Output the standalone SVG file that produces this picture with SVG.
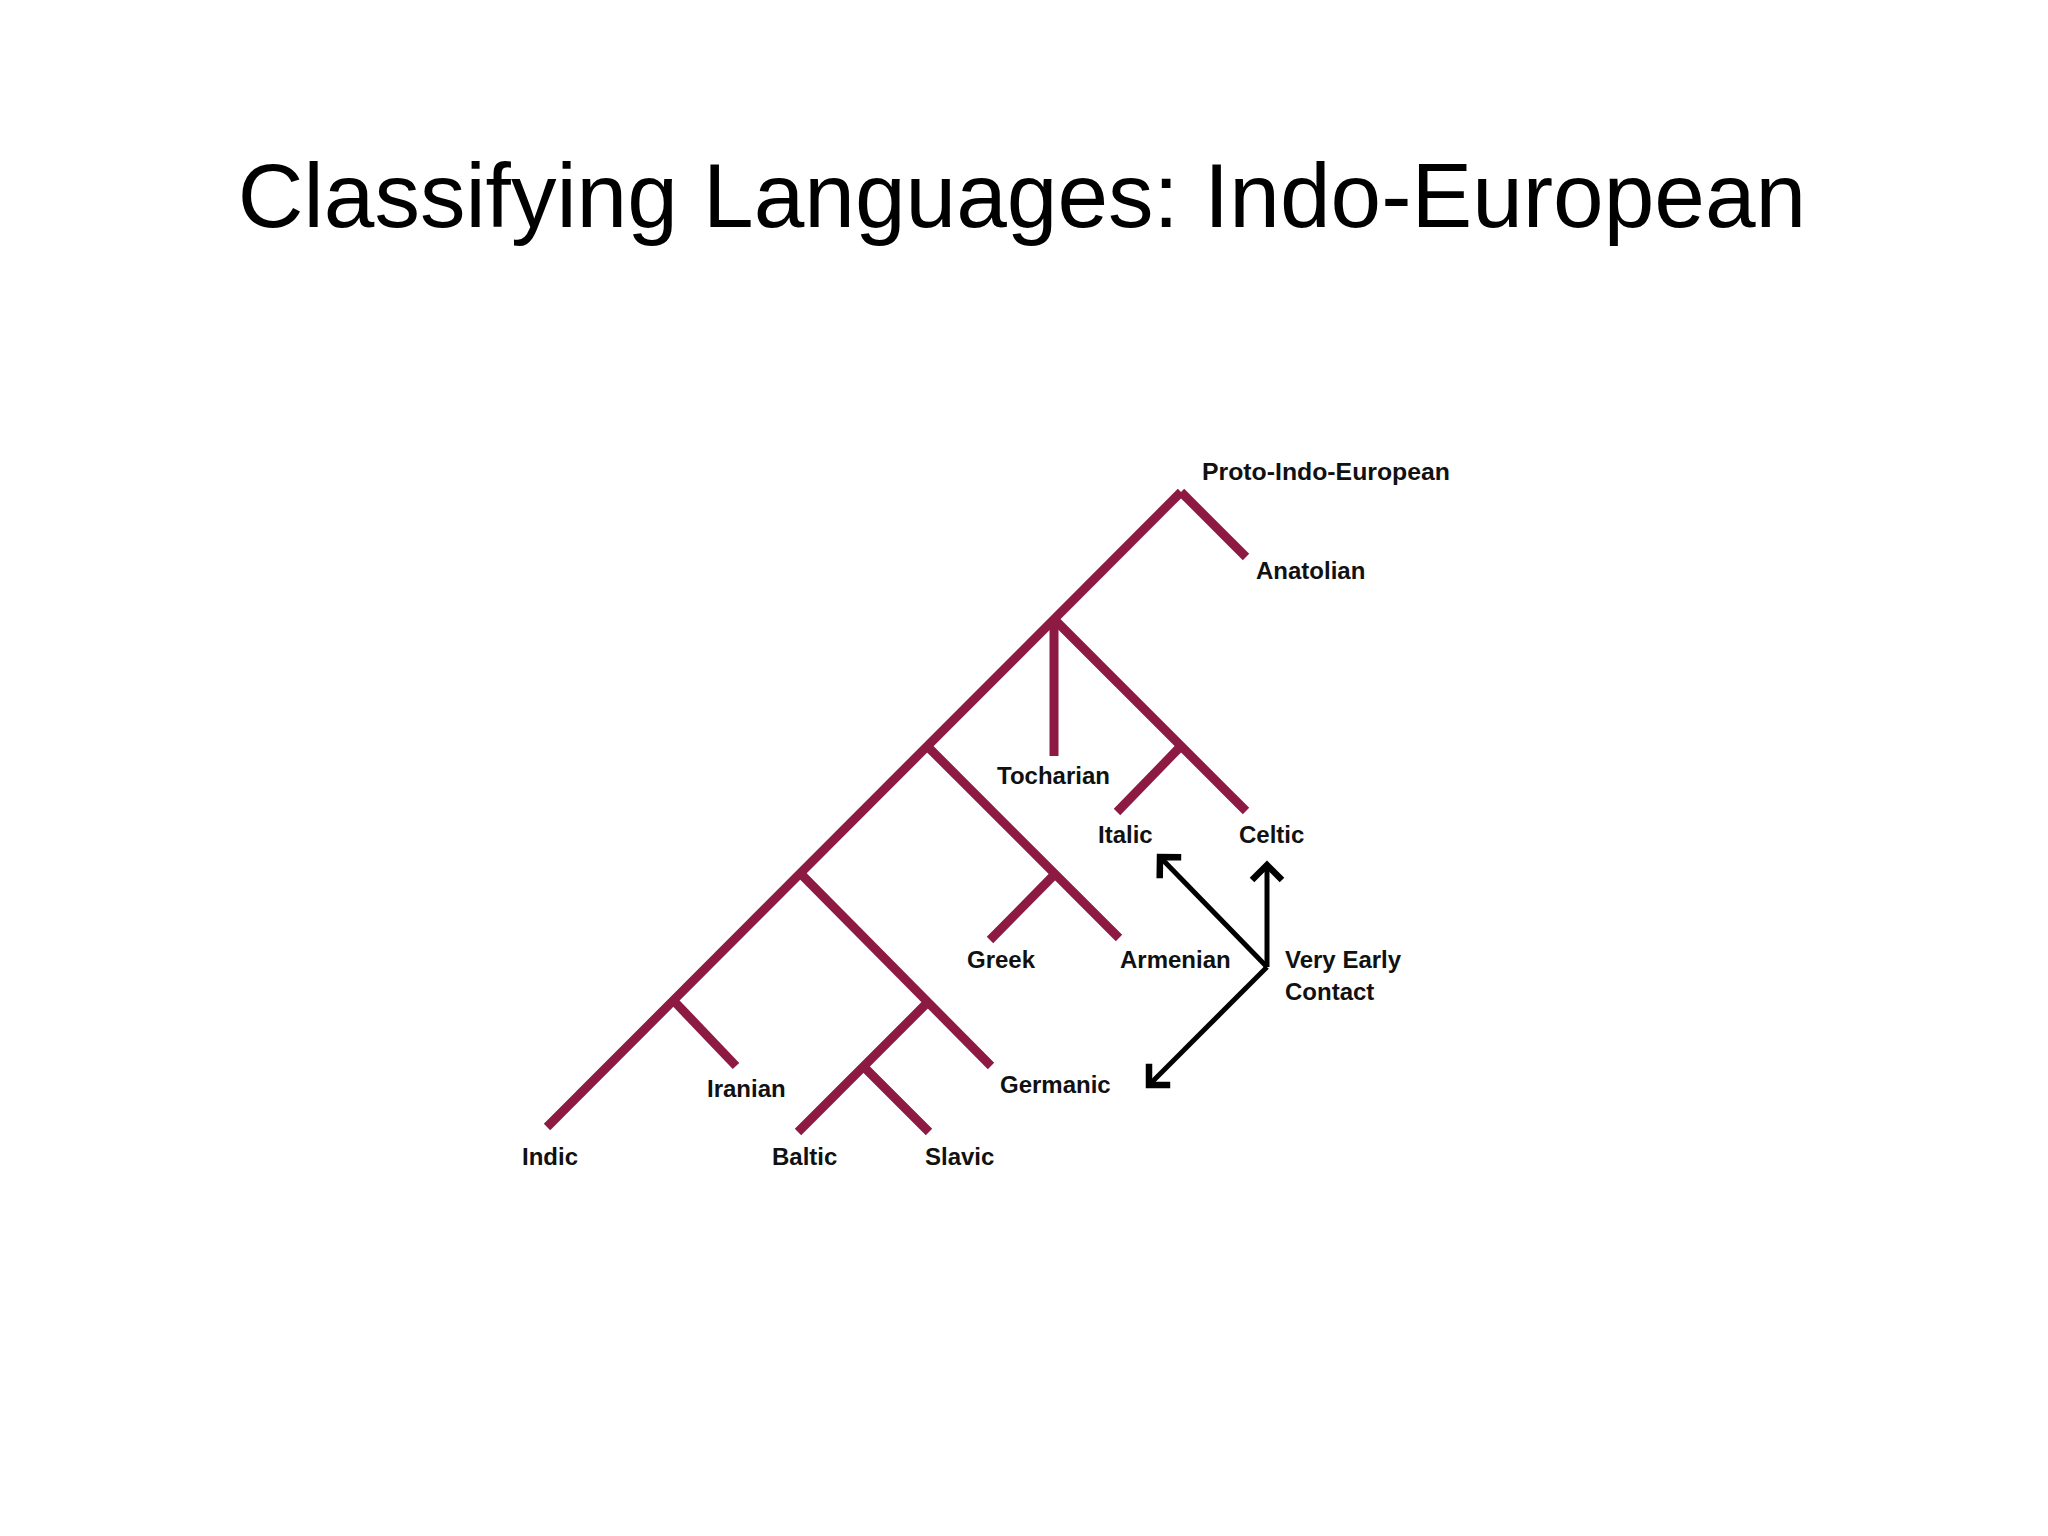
<svg xmlns="http://www.w3.org/2000/svg" width="2048" height="1536" viewBox="0 0 2048 1536">
<style>
.title{font-family:"Liberation Sans",Arial,sans-serif;font-size:91px;fill:#000}
.lbl{font-family:"Liberation Sans",Arial,sans-serif;font-size:24px;font-weight:bold;fill:#111}
.pie{font-size:24.8px}
.br{stroke:#8c1a42;stroke-width:9;fill:none;stroke-linecap:butt}
.ar{stroke:#000;stroke-width:5;fill:none}
</style>
<defs>
<marker id="head" markerUnits="userSpaceOnUse" markerWidth="44" markerHeight="44" viewBox="-22 -22 44 44" refX="0" refY="0" orient="auto">
<path d="M-15,-15 L0,0 L-15,15" fill="none" stroke="#000" stroke-width="6.5" stroke-linejoin="miter"/>
</marker>
</defs>
<rect width="2048" height="1536" fill="#fff"/>
<text class="title" x="1022" y="227" text-anchor="middle">Classifying Languages: Indo-European</text>
<g id="connectors">
<path class="br" d="M1181,492 L547,1127"/>
<path class="br" d="M1181,492 L1246,557"/>
<path class="br" d="M1054,619 L1054,756"/>
<path class="br" d="M1054,619 L1246,811"/>
<path class="br" d="M1181,746 L1117,812"/>
<path class="br" d="M927,746 L1119,938"/>
<path class="br" d="M1055,874 L990,940"/>
<path class="br" d="M800,873 L991,1066"/>
<path class="br" d="M928,1002 L798,1132"/>
<path class="br" d="M863,1066 L929,1132"/>
<path class="br" d="M673,1000 L736,1066"/>
<path class="ar" d="M1267,967 L1267,865" marker-end="url(#head)"/>
<path class="ar" d="M1267,967 L1160,857" marker-end="url(#head)"/>
<path class="ar" d="M1267,967 L1149,1085" marker-end="url(#head)"/>
</g>
<g id="node-pie"><text class="lbl pie" x="1202" y="480">Proto-Indo-European</text></g>
<g id="node-anatolian"><text class="lbl" x="1256" y="579">Anatolian</text></g>
<g id="node-tocharian"><text class="lbl" x="997" y="784">Tocharian</text></g>
<g id="node-italic"><text class="lbl" x="1098" y="843">Italic</text></g>
<g id="node-celtic"><text class="lbl" x="1239" y="843">Celtic</text></g>
<g id="node-greek"><text class="lbl" x="967" y="968">Greek</text></g>
<g id="node-armenian"><text class="lbl" x="1120" y="968">Armenian</text></g>
<g id="node-contact"><text class="lbl" x="1285" y="968">Very Early</text><text class="lbl" x="1285" y="1000">Contact</text></g>
<g id="node-germanic"><text class="lbl" x="1000" y="1093">Germanic</text></g>
<g id="node-iranian"><text class="lbl" x="707" y="1097">Iranian</text></g>
<g id="node-indic"><text class="lbl" x="522" y="1165">Indic</text></g>
<g id="node-baltic"><text class="lbl" x="772" y="1165">Baltic</text></g>
<g id="node-slavic"><text class="lbl" x="925" y="1165">Slavic</text></g>
</svg>
